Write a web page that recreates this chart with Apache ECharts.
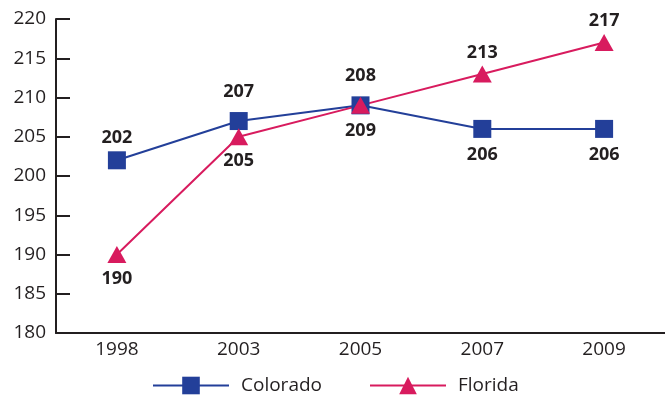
<!DOCTYPE html>
<html>
<head>
<meta charset="utf-8">
<script src="https://cdn.jsdelivr.net/npm/echarts@6/dist/echarts.min.js"></script>
<style>
  html, body { margin: 0; padding: 0; background: #fff; }
  #chart { width: 665px; height: 401px; }
</style>
</head>
<body>
<div id="chart"></div>
<script>
const years = ['1998', '2003', '2005', '2007', '2009']
const colorado = [202, 207, 209, 206, 206]
const coloradoLabels = ['202', '207', '208', '206', '206']
const florida = [190, 205, 209, 213, 217]
const floridaLabels = ['190', '205', '209', '213', '217']

// label placement per point (above / below, gap from marker)
const coloradoPlace = [['top', 4], ['top', 11], ['top', 11], ['bottom', 8], ['bottom', 8]]
const floridaPlace = [['bottom', 7], ['bottom', 7], ['bottom', 8], ['top', 4], ['top', 4]]

const ink = '#231f20'
const blue = '#233f99'
const pink = '#d81b5e'
const font = '"Open Sans", "Noto Sans", sans-serif'

function points(values, labels, place) {
  return values.map((v, i) => ({
    value: v,
    label: { position: place[i][0], distance: place[i][1], formatter: labels[i] },
  }))
}

const chart = echarts.init(document.getElementById('chart'))

chart.setOption({
  animation: false,
  backgroundColor: '#fff',
  grid: { left: 56, right: 0, top: 19, bottom: 68 },
  legend: {
    left: 147,
    top: 371,
    itemWidth: 76,
    itemHeight: 22,
    itemGap: 47,
    textStyle: { color: ink, fontSize: 19, fontFamily: font, padding: [0, 0, 0, 7] },
    data: ['Colorado', 'Florida'],
  },
  xAxis: {
    type: 'category',
    data: years,
    boundaryGap: true,
    axisLine: { lineStyle: { color: ink, width: 2 } },
    axisTick: { inside: true, length: 8, lineStyle: { color: ink, width: 2 } },
    axisLabel: { color: ink, fontSize: 19, fontFamily: font, margin: 7 },
    splitLine: { show: false },
  },
  yAxis: {
    type: 'value',
    min: 180,
    max: 220,
    interval: 5,
    axisLine: { show: true, lineStyle: { color: ink, width: 2 } },
    axisTick: { show: true, inside: true, length: 14, lineStyle: { color: ink, width: 2 } },
    axisLabel: { color: ink, fontSize: 19, fontFamily: font, margin: 10 },
    splitLine: { show: false },
  },
  series: [
    {
      name: 'Colorado',
      type: 'line',
      symbol: 'rect',
      symbolSize: 18,
      lineStyle: { color: blue, width: 2 },
      itemStyle: { color: blue },
      label: { show: true, color: ink, fontSize: 18, fontWeight: 'bold', fontFamily: font },
      data: points(colorado, coloradoLabels, coloradoPlace),
    },
    {
      name: 'Florida',
      type: 'line',
      symbol: 'triangle',
      symbolSize: [19, 17],
      lineStyle: { color: pink, width: 2 },
      itemStyle: { color: pink },
      label: { show: true, color: ink, fontSize: 18, fontWeight: 'bold', fontFamily: font },
      data: points(florida, floridaLabels, floridaPlace),
    },
  ],
})
</script>
</body>
</html>
